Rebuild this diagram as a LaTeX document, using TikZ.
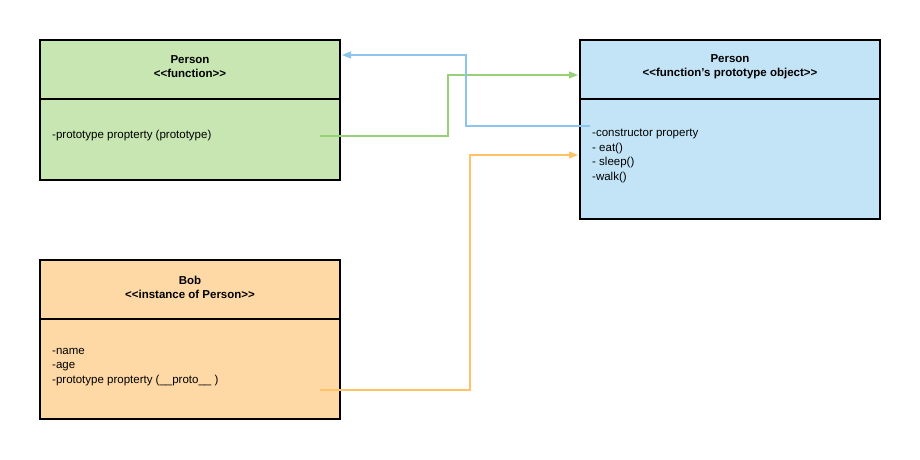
\documentclass[tikz,border=0pt]{standalone}
\usepackage{fontspec}
\setmainfont{Liberation Sans}
\usetikzlibrary{arrows.meta}
\definecolor{gfill}{HTML}{C7E6B2}
\definecolor{bfill}{HTML}{C3E4F6}
\definecolor{ofill}{HTML}{FED9A6}
\definecolor{garr}{HTML}{97D077}
\definecolor{barr}{HTML}{8CC4EE}
\definecolor{oarr}{HTML}{FFC266}
\begin{document}
\begin{tikzpicture}[x=1pt,y=-1pt,
  box/.style={draw=black,line width=1.1pt},
  ttl/.style={font=\fontsize{11.5}{14}\selectfont\bfseries,align=center,inner sep=0},
  txt/.style={font=\fontsize{11.5}{14.5}\selectfont,align=left,anchor=west,inner sep=0},
  conn/.style={line width=1.1pt,-{Triangle[length=9pt,width=7pt]}}]
\useasboundingbox (0,0) rectangle (920,460);
% green
\draw[box,fill=gfill] (40,40) rectangle (340,180);
\draw[box] (40,99) -- (340,99);
\node[ttl] (gt) at (190,67) {Person\\<{}<function>{}>};
\node[txt] (gx) at (52,136) {-prototype propterty (prototype)};
\coordinate (gs) at (320,136);
\coordinate (gin) at (342,55);
% blue
\draw[box,fill=bfill] (580,40) rectangle (880,219);
\draw[box] (580,99) -- (880,99);
\node[ttl] (bt) at (730,67) {Person\\<{}<function's prototype object>{}>};
\node[txt] (bx) at (592,156) {-constructor property\\- eat()\\- sleep()\\-walk()};
\coordinate (bs) at (590,126);
\coordinate (bg) at (578,75);
\coordinate (bo) at (578,155);
% orange
\draw[box,fill=ofill] (40,260) rectangle (340,419);
\draw[box] (40,319) -- (340,319);
\node[ttl] (ot) at (190,287) {Bob\\<{}<instance of Person>{}>};
\node[txt] (ox) at (52,367) {-name\\-age\\-prototype propterty (\_\_proto\_\_ )};
\coordinate (os) at (320,390);
% connectors
\draw[conn,draw=garr,-{Triangle[length=9pt,width=7pt,fill=garr]}] (gs) -- (448,136) -- (448,75) -- (bg);
\draw[conn,draw=barr,-{Triangle[length=9pt,width=7pt,fill=barr]}] (bs) -- (466,126) -- (466,55) -- (gin);
\draw[conn,draw=oarr,-{Triangle[length=9pt,width=7pt,fill=oarr]}] (os) -- (470,390) -- (470,155) -- (bo);
\end{tikzpicture}
\end{document}
